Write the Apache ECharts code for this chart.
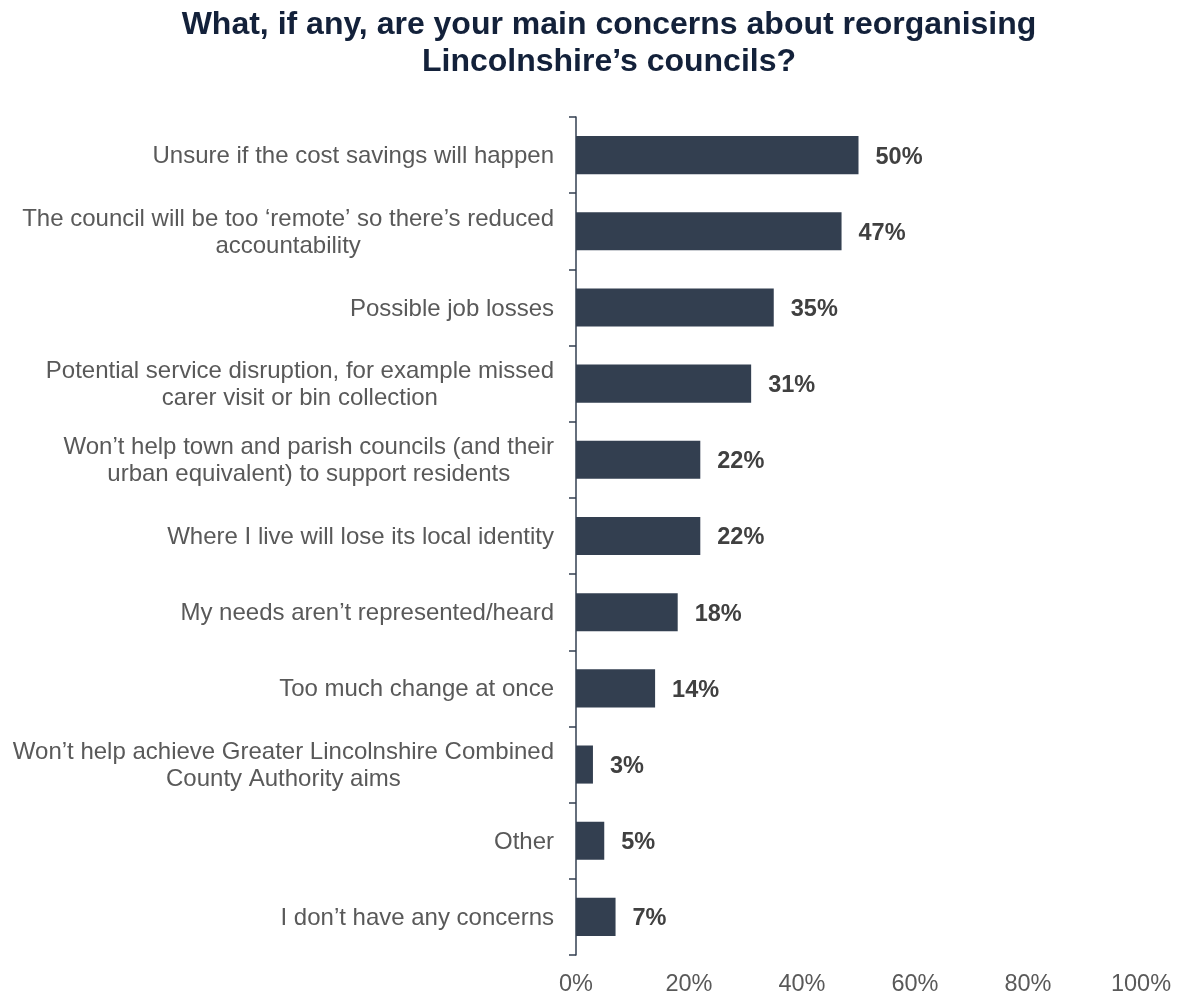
<!DOCTYPE html>
<html>
<head>
<meta charset="utf-8">
<script src="https://cdn.jsdelivr.net/npm/echarts@6/dist/echarts.min.js"></script>
<style>
  html, body { margin: 0; padding: 0; background: #ffffff; }
  #chart { width: 1178px; height: 994px; }
</style>
</head>
<body>
<div id="chart"></div>
<script>
// Survey responses: main concerns about council reorganisation (top to bottom)
const categories = [
  "Unsure if the cost savings will happen",
  "The council will be too \u2018remote\u2019 so there\u2019s reduced\naccountability",
  "Possible job losses",
  "Potential service disruption, for example missed\ncarer visit or bin collection",
  "Won\u2019t help town and parish councils (and their\nurban equivalent) to support residents",
  "Where I live will lose its local identity",
  "My needs aren\u2019t represented/heard",
  "Too much change at once",
  "Won\u2019t help achieve Greater Lincolnshire Combined\nCounty Authority aims",
  "Other",
  "I don\u2019t have any concerns"
];
const percentages = [50, 47, 35, 31, 22, 22, 18, 14, 3, 5, 7];
const axisTicks = [0, 20, 40, 60, 80, 100];

const FONT = 'Liberation Sans, Arial, sans-serif';
const chart = echarts.init(document.getElementById('chart'), null, { renderer: 'canvas' });

// Each line of a wrapped label is centred within its block; the block itself is right-aligned
function centredLines(text) {
  return text.split('\n').map(l => '{c|' + l + '}').join('\n');
}

chart.setOption({
  animation: false,
  backgroundColor: '#ffffff',
  title: {
    text: "What, if any, are your main concerns about reorganising\nLincolnshire\u2019s councils?",
    left: 604,
    top: 2,
    textAlign: 'center',
    textStyle: {
      fontFamily: FONT,
      fontSize: 32,
      fontWeight: 'bold',
      color: '#13213a',
      lineHeight: 37
    }
  },
  grid: { left: 576, right: 37, top: 117, bottom: 39, containLabel: false, outerBoundsMode: 'none' },
  xAxis: {
    type: 'value',
    min: axisTicks[0],
    max: axisTicks[axisTicks.length - 1],
    interval: 20,
    axisLine: { show: false },
    axisTick: { show: false },
    splitLine: { show: false },
    axisLabel: {
      formatter: '{value}%',
      margin: 18,
      fontFamily: FONT,
      fontSize: 23.5,
      color: '#595959'
    }
  },
  yAxis: {
    type: 'category',
    inverse: true,
    data: categories,
    axisLine: { show: true, lineStyle: { color: '#333f50', width: 1.5 } },
    axisTick: { show: true, length: 7, lineStyle: { color: '#333f50', width: 1.5 } },
    axisLabel: {
      margin: 22,
      align: 'right',
      formatter: centredLines,
      fontFamily: FONT,
      fontSize: 24,
      color: '#595959',
      lineHeight: 27,
      padding: [3, 0, 0, 0],
      rich: {
        c: {
          align: 'center',
          fontFamily: FONT,
          fontSize: 24,
          color: '#595959',
          lineHeight: 27
        }
      }
    }
  },
  series: [{
    type: 'bar',
    data: percentages,
    barWidth: '50%',
    itemStyle: { color: '#333f50' },
    label: {
      show: true,
      position: 'right',
      distance: 17,
      offset: [0, 2],
      formatter: '{c}%',
      fontFamily: FONT,
      fontSize: 23.5,
      fontWeight: 'bold',
      color: '#404040'
    }
  }]
});
</script>
</body>
</html>
